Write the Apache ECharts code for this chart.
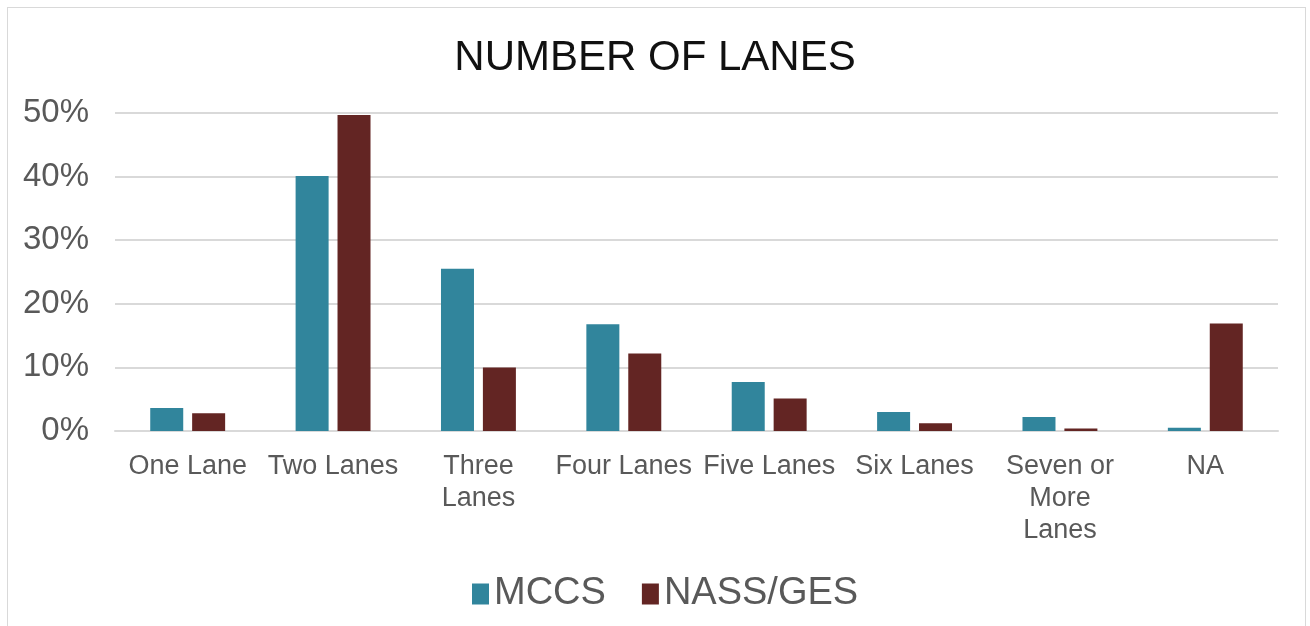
<!DOCTYPE html>
<html>
<head>
<meta charset="utf-8">
<script src="https://cdn.jsdelivr.net/npm/echarts@6/dist/echarts.min.js"></script>
<style>
  body { margin: 0; background: #fff; }
  #chart { width: 1310px; height: 626px; }
  .frame {
    position: absolute;
    left: 7px;
    top: 7px;
    width: 1297px;
    height: 700px;
    border: 1px solid #d9d9d9;
    pointer-events: none;
  }
</style>
</head>
<body>
<div id="chart"></div>
<div class="frame"></div>
<script>
// categories (wrapped like the original axis labels)
const categories = ['One Lane', 'Two Lanes', 'Three\nLanes', 'Four Lanes', 'Five Lanes', 'Six Lanes', 'Seven or\nMore\nLanes', 'NA']
// percent values
const mccs = [3.6, 40.1, 25.5, 16.8, 7.7, 3.0, 2.2, 0.5]
const nassGes = [2.8, 49.7, 10.0, 12.2, 5.1, 1.2, 0.4, 16.9]
const yTicks = [0, 10, 20, 30, 40, 50]

const myChart = echarts.init(document.getElementById('chart'))
const option = {
  animation: false,
  title: {
    text: 'NUMBER OF LANES',
    left: 'center',
    top: 32,
    textStyle: {
      color: '#111',
      fontFamily: 'Liberation Sans, Arial',
      fontSize: 42,
      fontWeight: 'normal'
    }
  },
  grid: {
    left: 115,
    right: 32,
    top: 113,
    bottom: 195
  },
  legend: {
    data: ['MCCS', 'NASS/GES'],
    bottom: 8,
    left: 467,
    itemWidth: 17,
    itemHeight: 21,
    itemGap: 36,
    icon: 'rect',
    textStyle: {
      color: '#595959',
      fontFamily: 'Liberation Sans, Arial',
      fontSize: 38
    }
  },
  xAxis: {
    type: 'category',
    data: categories,
    axisTick: { show: false },
    axisLine: { lineStyle: { color: '#d9d9d9', width: 2 } },
    axisLabel: {
      interval: 0,
      color: '#595959',
      fontFamily: 'Liberation Sans, Arial',
      fontSize: 27,
      lineHeight: 32,
      margin: 20
    }
  },
  yAxis: {
    type: 'value',
    min: yTicks[0],
    max: yTicks[yTicks.length - 1],
    interval: 10,
    axisLine: { show: false },
    axisTick: { show: false },
    splitLine: { lineStyle: { color: '#d9d9d9', width: 2 } },
    axisLabel: {
      color: '#595959',
      fontFamily: 'Liberation Sans, Arial',
      fontSize: 33,
      margin: 26,
      formatter: '{value}%'
    }
  },
  series: [
    {
      name: 'MCCS',
      type: 'bar',
      data: mccs,
      barWidth: 33,
      barGap: '27%',
      itemStyle: { color: '#31859c' }
    },
    {
      name: 'NASS/GES',
      type: 'bar',
      data: nassGes,
      barWidth: 33,
      itemStyle: { color: '#632523' }
    }
  ]
}
myChart.setOption(option)
</script>
</body>
</html>
